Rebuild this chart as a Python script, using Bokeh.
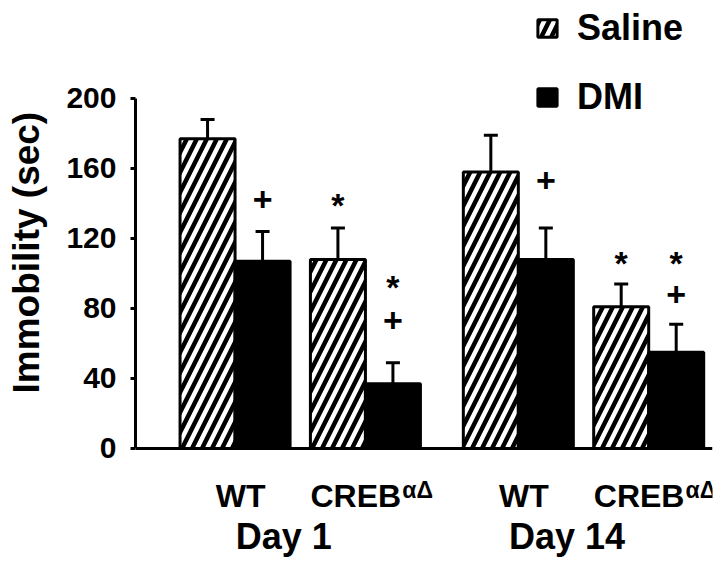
from bokeh.plotting import figure
from bokeh.models import (ColumnDataSource, Range1d, LinearAxis, FixedTicker, Whisker,
                          TeeHead, Legend, LegendItem, Span, Grid)
from bokeh.core.properties import value
from bokeh.embed import file_html
from bokeh.resources import INLINE

# ---------------- data ----------------
days = ["Day 1", "Day 14"]
genotypes = ["WT", "CREB"]
genotype_sup = ["", "\u03b1\u0394"]
treatments = ["Saline", "DMI"]

# order: Day 1 WT, Day 1 CREB, Day 14 WT, Day 14 CREB
saline_mean = [177, 108, 158, 81]
saline_sem = [11, 18, 21, 13]
dmi_mean = [107, 37, 108, 55]
dmi_sem = [17, 12, 18, 16]

# significance marks (height of the mark, sec); None = no mark
saline_star = [None, 142, None, 109]
dmi_star = [None, 95, None, 109]
dmi_plus = [142, 73, 153, 88]

y_ticks = [0, 40, 80, 120, 160, 200]
y_label = "Immobility (sec)"

# ---------------- layout constants ----------------
FONT = "Liberation Sans"
BAR_W = 1.0
DAY_STEP = 5.15
GENO_STEP = 2.37
ROW1_Y, SUP_Y, ROW2_Y = -26.9, -24.0, -50.3
LABEL_SHIFT = "\u00a0" * 6   # nudges the axis title up along the axis

group_x = [d * DAY_STEP + g * GENO_STEP for d in range(len(days)) for g in range(len(genotypes))]
day_x = [sum(group_x[d * 2:(d + 1) * 2]) / 2 for d in range(len(days))]
saline_x = [gx - BAR_W / 2 for gx in group_x]
dmi_x = [gx + BAR_W / 2 for gx in group_x]

p = figure(width=720, height=566, x_range=Range1d(-1.81, 8.68), y_range=Range1d(-67.43, 256),
           output_backend="svg", toolbar_location=None, title=None,
           x_axis_location=None, y_axis_location=None,
           min_border_left=135, min_border_right=8, min_border_top=0, min_border_bottom=0)
p.outline_line_color = None
p.background_fill_color = "white"
for g in p.select(type=Grid):
    g.visible = False

yaxis = LinearAxis(ticker=FixedTicker(ticks=y_ticks), bounds=(0, 200),
                   axis_line_width=3, axis_line_color="black",
                   major_tick_line_width=3, major_tick_out=5, major_tick_in=0,
                   minor_tick_line_color=None,
                   major_label_text_font=FONT, major_label_text_font_style="bold",
                   major_label_text_font_size="30px", major_label_text_color="black",
                   major_label_standoff=14,
                   axis_label=LABEL_SHIFT + y_label, axis_label_standoff=16,
                   axis_label_text_font=FONT, axis_label_text_font_style="bold",
                   axis_label_text_font_size="37px", axis_label_text_color="black")
p.add_layout(yaxis, "left")

# x baseline at 0
p.add_layout(Span(location=0, dimension="width", line_color="black", line_width=3))

src_s = ColumnDataSource(dict(x=saline_x, top=saline_mean,
                              upper=[m + s for m, s in zip(saline_mean, saline_sem)]))
src_d = ColumnDataSource(dict(x=dmi_x, top=dmi_mean,
                              upper=[m + s for m, s in zip(dmi_mean, dmi_sem)]))

r_s = p.vbar(x="x", top="top", bottom=0, width=BAR_W, source=src_s,
             fill_color="white", line_color="black", line_width=3,
             hatch_pattern="right_diagonal_line", hatch_color="black",
             hatch_weight=4.5, hatch_scale=20)
r_d = p.vbar(x="x", top="top", bottom=0, width=BAR_W, source=src_d,
             fill_color="black", line_color="black", line_width=3)

for src in (src_s, src_d):
    p.add_layout(Whisker(source=src, base="x", upper="upper", lower="top",
                         line_width=3, line_color="black",
                         upper_head=TeeHead(size=14, line_width=3, line_color="black"),
                         lower_head=None))

# significance marks
def marks(xs, ys, sym):
    pts = [(x, y) for x, y in zip(xs, ys) if y is not None]
    return dict(x=[a for a, _ in pts], y=[b for _, b in pts], t=[sym] * len(pts))

stars = marks(saline_x + dmi_x, saline_star + dmi_star, "*")
plus = marks(dmi_x, dmi_plus, "+")
p.text(x="x", y="y", text="t", source=ColumnDataSource(stars),
       text_font=value(FONT), text_font_style="bold", text_font_size="34px",
       text_align="center", text_baseline="middle", y_offset=5, text_color="black")
p.text(x="x", y="y", text="t", source=ColumnDataSource(plus),
       text_font=value(FONT), text_font_style="bold", text_font_size="34px",
       text_align="center", text_baseline="middle", text_color="black")

# category labels under the axis
wt_x = [gx + 0.1 for i, gx in enumerate(group_x) if not genotype_sup[i % 2]]
cr_x = [gx + 0.65 for i, gx in enumerate(group_x) if genotype_sup[i % 2]]
p.text(x=wt_x, y=[ROW1_Y] * len(wt_x), text=[genotypes[0]] * len(wt_x),
       text_font=value(FONT), text_font_style="bold", text_font_size="32px",
       text_align="center", text_baseline="alphabetic", text_color="black")
p.text(x=cr_x, y=[ROW1_Y] * len(cr_x), text=[genotypes[1]] * len(cr_x),
       text_font=value(FONT), text_font_style="bold", text_font_size="32px",
       text_align="right", text_baseline="alphabetic", text_color="black")
p.text(x=[c + 0.02 for c in cr_x], y=[SUP_Y] * len(cr_x), text=[genotype_sup[1]] * len(cr_x),
       text_font=value(FONT), text_font_style="bold", text_font_size="23px",
       text_align="left", text_baseline="alphabetic", text_color="black")
p.text(x=[dx - 0.3 for dx in day_x], y=[ROW2_Y] * len(days), text=days,
       text_font=value(FONT), text_font_style="bold", text_font_size="36px",
       text_align="center", text_baseline="alphabetic", text_color="black")

legend = Legend(items=[LegendItem(label=value(treatments[0]), renderers=[r_s]),
                       LegendItem(label=value(treatments[1]), renderers=[r_d])],
                location=(400, 448), orientation="vertical",
                glyph_width=24, glyph_height=22, label_height=40,
                label_text_font=FONT, label_text_font_style="bold",
                label_text_font_size="36px", label_text_color="black",
                label_standoff=18, spacing=27,
                padding=0, margin=0, border_line_color=None, background_fill_alpha=0)
p.add_layout(legend)

open("out.html", "w").write(file_html(p, INLINE))
